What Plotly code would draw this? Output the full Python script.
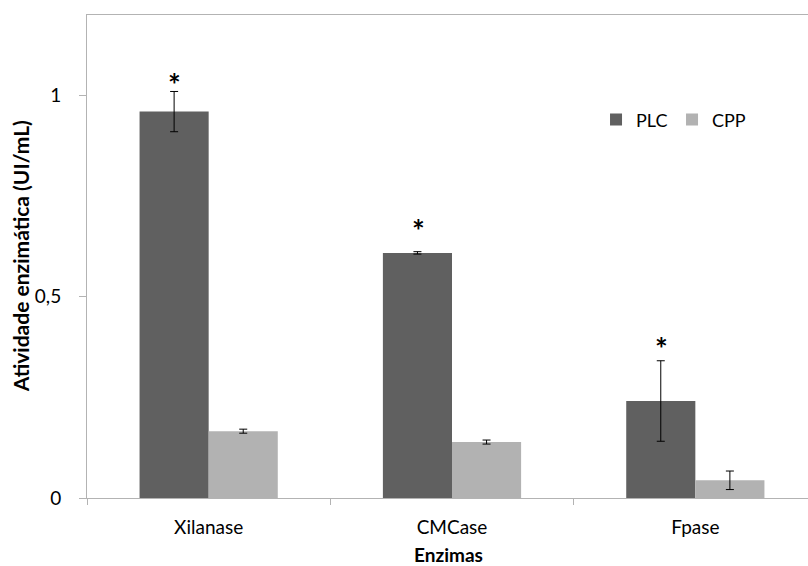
import plotly.graph_objects as go

# Enzyme activity (UI/mL) by substrate source
enzimas = ["Xilanase", "CMCase", "Fpase"]
plc_vals = [0.96, 0.609, 0.241]
plc_err = [0.050, 0.003, 0.100]
cpp_vals = [0.166, 0.139, 0.044]
cpp_err = [0.005, 0.005, 0.023]
signif = ["*", "*", "*"]

y_ticks = [0, 0.5, 1]
y_ticklabels = ["0", "0,5", "1"]

# vertical gap (px) between each error-bar cap and its significance marker
star_gap_px = [15, 29, 20]
STAR_SIZE = 30

FONT = "Lato, Carlito, Calibri, sans-serif"
AXIS_GRAY = "#b3b3b3"

fig = go.Figure()
fig.add_trace(go.Bar(
    name="PLC", x=enzimas, y=plc_vals,
    marker=dict(color="#606060", line=dict(width=0)),
    error_y=dict(type="data", array=plc_err, color="#000000", thickness=1, width=4),
))
fig.add_trace(go.Bar(
    name="CPP", x=enzimas, y=cpp_vals,
    marker=dict(color="#b2b2b2", line=dict(width=0)),
    error_y=dict(type="data", array=cpp_err, color="#000000", thickness=1, width=4),
))

# significance markers above the PLC bars
for cat, v, e, s, gap in zip(enzimas, plc_vals, plc_err, signif, star_gap_px):
    fig.add_annotation(
        x=cat, y=v + e, text=f"<b>{s}</b>", showarrow=False,
        xshift=-34, yanchor="bottom", yshift=gap - 0.92 * STAR_SIZE,
        font=dict(family=FONT, size=STAR_SIZE, color="#000000"),
    )

# axis titles
fig.add_annotation(
    xref="paper", yref="paper", x=-0.092, y=0.5,
    xanchor="center", yanchor="middle",
    text="<b>Atividade enzimática (UI/mL)</b>", textangle=-90, showarrow=False,
    font=dict(family=FONT, size=21, color="#000000"),
)
fig.add_annotation(
    xref="paper", yref="paper", x=0.5016, y=-0.118,
    xanchor="center", yanchor="middle",
    text="<b>Enzimas</b>", showarrow=False,
    font=dict(family=FONT, size=19, color="#000000"),
)

fig.update_layout(
    width=808, height=566,
    margin=dict(l=87, r=0, t=15, b=68),
    paper_bgcolor="#ffffff", plot_bgcolor="#ffffff",
    barmode="group", bargap=0.432, bargroupgap=0,
    font=dict(family=FONT, size=19, color="#000000"),
    showlegend=True,
    legend=dict(
        orientation="h", x=0.706, y=0.783, xanchor="left", yanchor="middle",
        font=dict(family=FONT, size=18, color="#000000"),
        bgcolor="rgba(0,0,0,0)", entrywidth=31, itemwidth=30,
    ),
    xaxis=dict(
        type="category", range=[-0.5, 2.463],
        showline=True, linecolor=AXIS_GRAY, linewidth=1, mirror=True,
        ticks="outside", tickson="boundaries", ticklen=6, tickcolor=AXIS_GRAY,
        showgrid=False, zeroline=False,
        tickfont=dict(family=FONT, size=19, color="#000000"),
        ticklabelstandoff=12,
    ),
    yaxis=dict(
        range=[0, 1.2], tickvals=y_ticks, ticktext=y_ticklabels,
        showline=True, linecolor=AXIS_GRAY, linewidth=1,
        ticks="outside", ticklen=7, tickcolor=AXIS_GRAY,
        showgrid=False, zeroline=False,
        tickfont=dict(family=FONT, size=19, color="#000000"),
        ticklabelstandoff=14,
    ),
)

fig.write_html("out.html")
